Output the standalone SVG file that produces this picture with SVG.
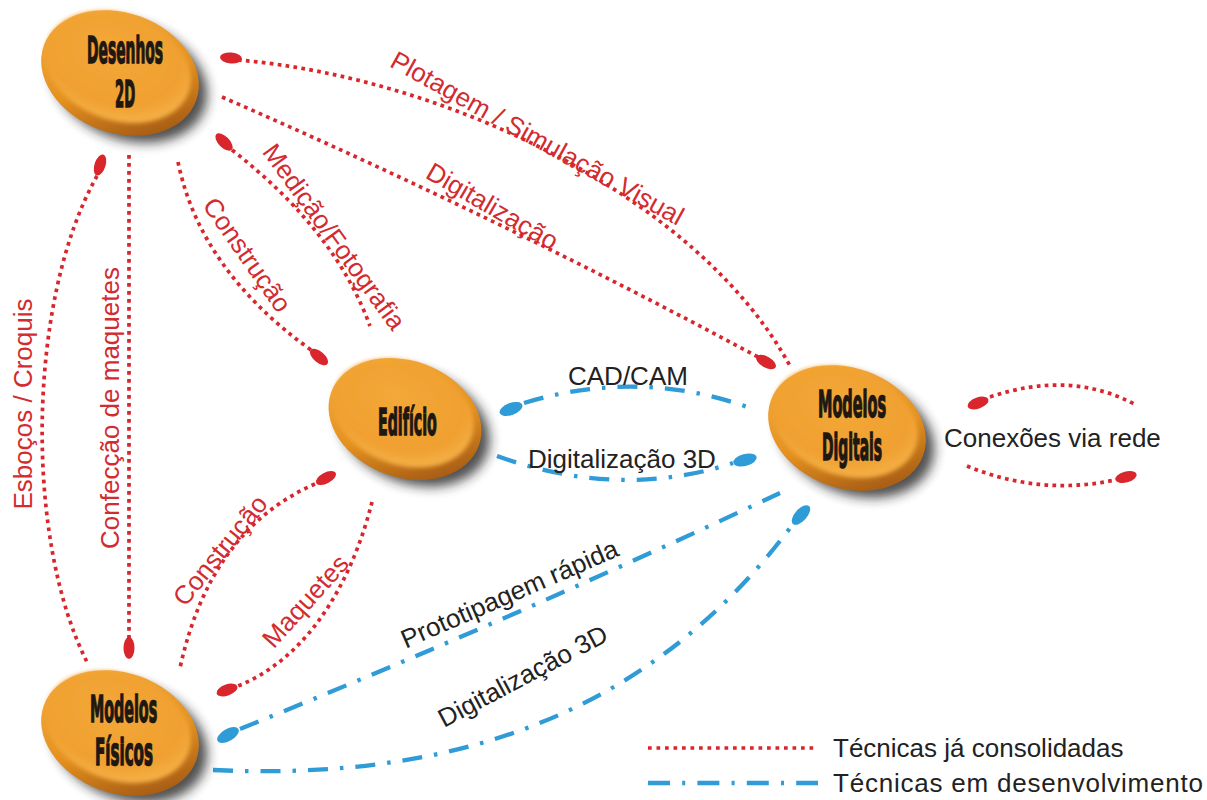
<svg xmlns="http://www.w3.org/2000/svg" width="1207" height="800" viewBox="0 0 1207 800">
  <defs>
    <style>
      .red { fill: none; stroke: #D8262C; stroke-width: 3.7; stroke-dasharray: 3.7 4.3; }
      .blue { fill: none; stroke: #2F9BD7; stroke-width: 4.3; stroke-dasharray: 20 12 3.5 12; }
      .rcap { fill: #D8262C; }
      .bcap { fill: #2F9BD7; }
      .rl { font-family: "Liberation Sans", Arial, sans-serif; font-size: 26px; fill: #D22B30; }
      .bl { font-family: "Liberation Sans", Arial, sans-serif; font-size: 26px; fill: #222222; }
      .nt { font-family: "DejaVu Sans Condensed", "DejaVu Sans", sans-serif; font-weight: bold; font-size: 38px; fill: #1E1712; stroke: #1E1712; stroke-width: 1.5; }
    </style>
    <filter id="soft" x="-40%" y="-40%" width="180%" height="180%">
      <feGaussianBlur stdDeviation="6"/>
    </filter>
    <filter id="edge" x="-20%" y="-20%" width="140%" height="140%">
      <feGaussianBlur stdDeviation="2"/>
    </filter>
    <linearGradient id="rim" x1="0" y1="0" x2="1" y2="1">
      <stop offset="0" stop-color="#F7B347"/>
      <stop offset="0.55" stop-color="#E4901F"/>
      <stop offset="1" stop-color="#8A4510"/>
    </linearGradient>
    <radialGradient id="face" cx="0.42" cy="0.38" r="0.65">
      <stop offset="0" stop-color="#F3A838"/>
      <stop offset="0.75" stop-color="#F0A030"/>
      <stop offset="1" stop-color="#F5B24A"/>
    </radialGradient>
    <!-- orange push-button disc, centred on the origin -->
    <g id="btn">
      <g transform="rotate(20)">
        <ellipse cx="12" cy="5" rx="80" ry="58" fill="#222222" opacity="0.8" filter="url(#soft)"/>
        <ellipse cx="0" cy="0" rx="81" ry="60" fill="url(#rim)"/>
        <ellipse cx="-4" cy="-5" rx="75" ry="53" fill="url(#face)" filter="url(#edge)"/>
      </g>
    </g>
  </defs>

  <rect width="1207" height="800" fill="#FFFFFF"/>

  <!-- connectors -->
  <g id="connectors">
    <!-- Desenhos 2D -> Modelos Digitais -->
    <path class="red" d="M 238 60 C 450 78, 700 200, 790 366"/>
    <ellipse class="rcap" cx="231" cy="58" rx="11" ry="5.5" transform="rotate(5 231 58)"/>
    <path class="red" d="M 222 97 Q 500 218, 758 357"/>
    <ellipse class="rcap" cx="766" cy="362" rx="11" ry="5.5" transform="rotate(30 766 362)"/>
    <!-- Desenhos 2D <-> Edificio -->
    <path class="red" d="M 232 150 Q 335 230, 370 326"/>
    <ellipse class="rcap" cx="224" cy="142" rx="11" ry="5.5" transform="rotate(45 224 142)"/>
    <path class="red" d="M 178 162 Q 200 270, 311 350"/>
    <ellipse class="rcap" cx="319" cy="357" rx="11" ry="5.5" transform="rotate(40 319 357)"/>
    <!-- Desenhos 2D <-> Modelos Fisicos -->
    <path class="red" d="M 97 176 C 27 300, 24 540, 88 664"/>
    <ellipse class="rcap" cx="100" cy="165" rx="11" ry="5.5" transform="rotate(-72 100 165)"/>
    <path class="red" d="M 129 155 L 129 638"/>
    <ellipse class="rcap" cx="129" cy="648" rx="11" ry="5.5" transform="rotate(90 129 648)"/>
    <!-- Edificio <-> Modelos Fisicos -->
    <path class="red" d="M 315 484 Q 210 530, 180 668"/>
    <ellipse class="rcap" cx="326" cy="478" rx="11" ry="5.5" transform="rotate(-28 326 478)"/>
    <path class="red" d="M 372 502 C 355 570, 315 655, 238 686"/>
    <ellipse class="rcap" cx="227" cy="690" rx="11" ry="5.5" transform="rotate(-20 227 690)"/>
    <!-- Edificio <-> Modelos Digitais -->
    <path class="blue" d="M 524 403 Q 640 368, 750 408"/>
    <ellipse class="bcap" cx="511" cy="409" rx="12" ry="6" transform="rotate(-20 511 409)"/>
    <path class="blue" d="M 497 456 Q 620 500, 733 463"/>
    <ellipse class="bcap" cx="745" cy="460" rx="12" ry="6" transform="rotate(-15 745 460)"/>
    <!-- Modelos Fisicos <-> Modelos Digitais -->
    <path class="blue" d="M 240 729 Q 510 620, 780 493"/>
    <ellipse class="bcap" cx="228" cy="735" rx="12" ry="6" transform="rotate(-30 228 735)"/>
    <path class="blue" d="M 213 770 C 430 780, 640 730, 793 524"/>
    <ellipse class="bcap" cx="801" cy="515" rx="12" ry="6" transform="rotate(-48 801 515)"/>
    <!-- network links -->
    <path class="red" d="M 990 397 Q 1070 370, 1134 404"/>
    <ellipse class="rcap" cx="978" cy="403" rx="11" ry="5.5" transform="rotate(-20 978 403)"/>
    <path class="red" d="M 967 466 Q 1040 496, 1115 480"/>
    <ellipse class="rcap" cx="1126" cy="477" rx="11" ry="5.5" transform="rotate(-15 1126 477)"/>

    <!-- connector labels -->
    <text class="rl" text-anchor="middle" transform="translate(533 146) rotate(29)">Plotagem / Simulação Visual</text>
    <text class="rl" text-anchor="middle" transform="translate(488 214) rotate(30)">Digitalização</text>
    <text class="rl" text-anchor="middle" transform="translate(327 242) rotate(54)">Medição/Fotografia</text>
    <text class="rl" text-anchor="middle" transform="translate(240 260) rotate(55)">Construção</text>
    <text class="rl" text-anchor="middle" transform="translate(32 404) rotate(-90)">Esboços / Croquis</text>
    <text class="rl" text-anchor="middle" transform="translate(119 408) rotate(-90)">Confecção de maquetes</text>
    <text class="rl" text-anchor="middle" transform="translate(227 556) rotate(-51)">Construção</text>
    <text class="rl" text-anchor="middle" transform="translate(312 607) rotate(-48)">Maquetes</text>
    <text class="bl" x="568" y="385">CAD/CAM</text>
    <text class="bl" x="528" y="468">Digitalização 3D</text>
    <text class="bl" text-anchor="middle" transform="translate(513 602) rotate(-23.5)">Prototipagem rápida</text>
    <text class="bl" text-anchor="middle" transform="translate(527 684) rotate(-28)">Digitalização 3D</text>
    <text class="bl" x="944" y="447">Conexões via rede</text>
  </g>

  <!-- nodes: condensed captions are squeezed horizontally to 42% -->
  <g id="node-desenhos">
    <use href="#btn" transform="translate(120 73)"/>
    <text class="nt" transform="translate(87 63) scale(0.42 1)" textLength="181" lengthAdjust="spacingAndGlyphs">Desenhos</text>
    <text class="nt" transform="translate(115 107) scale(0.42 1)" textLength="48" lengthAdjust="spacingAndGlyphs">2D</text>
  </g>
  <g id="node-edificio">
    <use href="#btn" transform="translate(405 419) scale(0.97)"/>
    <text class="nt" transform="translate(378 435) scale(0.42 1)" textLength="140" lengthAdjust="spacingAndGlyphs">Edifício</text>
  </g>
  <g id="node-digitais">
    <use href="#btn" transform="translate(847 428)"/>
    <text class="nt" transform="translate(818 417) scale(0.42 1)" textLength="162" lengthAdjust="spacingAndGlyphs">Modelos</text>
    <text class="nt" transform="translate(822 460) scale(0.42 1)" textLength="143" lengthAdjust="spacingAndGlyphs">Digitais</text>
  </g>
  <g id="node-fisicos">
    <use href="#btn" transform="translate(120 733)"/>
    <text class="nt" transform="translate(90 722) scale(0.42 1)" textLength="160" lengthAdjust="spacingAndGlyphs">Modelos</text>
    <text class="nt" transform="translate(95 765) scale(0.42 1)" textLength="138" lengthAdjust="spacingAndGlyphs">Físicos</text>
  </g>

  <!-- legend -->
  <g id="legend">
    <path class="red" d="M 648 748 L 818 748" style="stroke-dasharray: 3.7 4.8"/>
    <text class="bl" x="833" y="757">Técnicas já consolidadas</text>
    <path class="blue" d="M 648 783 L 818 783" style="stroke-dasharray: 22 12.2 3 12.2"/>
    <text class="bl" x="833" y="792" textLength="370" lengthAdjust="spacing">Técnicas em desenvolvimento</text>
  </g>
</svg>
